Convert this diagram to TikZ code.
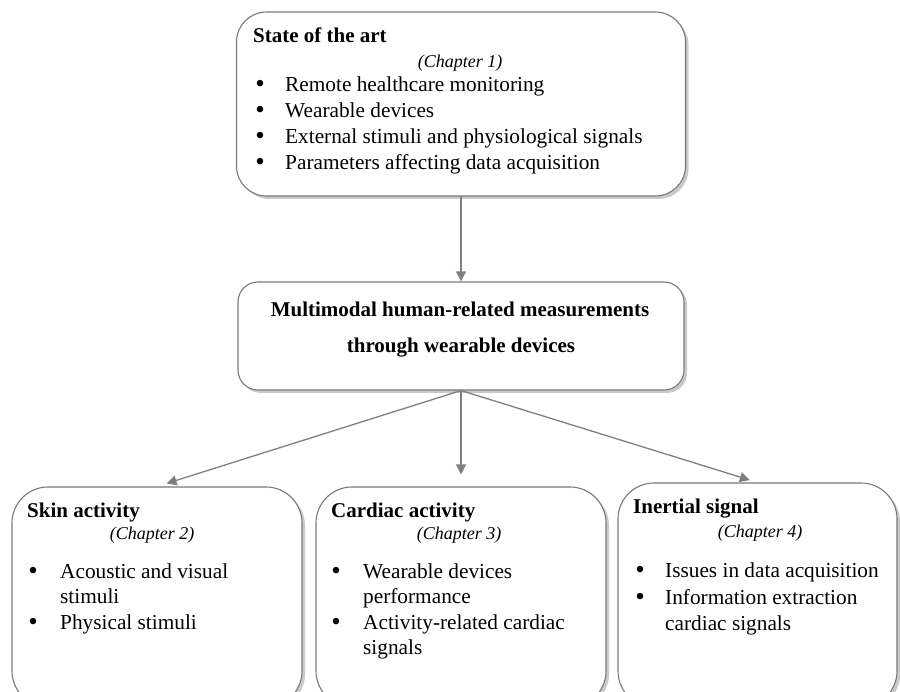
\documentclass[tikz,border=0pt]{standalone}
\usepackage{fontspec}
\setmainfont{Liberation Serif}
\usetikzlibrary{arrows.meta,shadows}
\definecolor{edgegray}{HTML}{7A7A7A}
\definecolor{arrgray}{HTML}{7F7F7F}
\newcommand{\mybul}{\smash{\textbullet}}
\begin{document}
\begin{tikzpicture}[x=1pt,y=-1pt,
  box/.style={draw=edgegray,line width=1.1pt,fill=white,
    drop shadow={shadow xshift=3pt,shadow yshift=-3pt,opacity=0.35,fill=black!60}},
  conn/.style={draw=arrgray,line width=1.3pt,-{Triangle[length=10pt,width=10pt]}},
  txt/.style={anchor=base west,inner sep=0pt,font=\fontsize{21.3}{25}\selectfont},
  head/.style={txt,font=\fontsize{21}{25}\selectfont\bfseries},
  chap/.style={anchor=base,inner sep=0pt,font=\fontsize{18}{20}\selectfont\itshape},
  mtxt/.style={anchor=base,inner sep=0pt,font=\fontsize{21}{25}\selectfont\bfseries},
  bul/.style={anchor=base,inner sep=0pt,font=\fontsize{27}{25}\selectfont}]
\useasboundingbox (0,0) rectangle (900,692);
\clip (0,0) rectangle (900,692);
\fill[white] (0,0) rectangle (900,692);

% boxes
\node[box,rounded corners=30pt,minimum width=449pt,minimum height=184pt] (top) at (461,104) {};
\node[box,rounded corners=20pt,minimum width=446pt,minimum height=108pt] (mid) at (461,336) {};
\node[box,rounded corners=36pt,minimum width=290pt,minimum height=220pt] (b1) at (157,597) {};
\node[box,rounded corners=36pt,minimum width=290pt,minimum height=220pt] (b2) at (461,597) {};
\node[box,rounded corners=36pt,minimum width=279pt,minimum height=224pt] (b3) at (757.5,595) {};

% connectors
\draw[conn] (top.south) -- (mid.north);
\draw[conn,shorten >=10pt] (mid.south) -- (b1.north);
\draw[conn,shorten >=12pt] (mid.south) -- (b2.north);
\draw[conn,shorten >=8pt] (mid.south) -- (b3.north);

% top box text
\node[head] (h0) at (253,43) {State of the art};
\node[chap] (c0) at (460,68) {(Chapter 1)};
\node[bul] (u01) at (260,93) {\mybul};
\node[txt] (l01) at (285,92) {Remote healthcare monitoring};
\node[bul] (u02) at (260,119) {\mybul};
\node[txt] (l02) at (285,118) {Wearable devices};
\node[bul] (u03) at (260,145) {\mybul};
\node[txt] (l03) at (285,144) {External stimuli and physiological signals};
\node[bul] (u04) at (260,171) {\mybul};
\node[txt] (l04) at (285,170) {Parameters affecting data acquisition};

% middle box text
\node[mtxt] (m1) at (460,317) {Multimodal human-related measurements};
\node[mtxt] (m2) at (461,353) {through wearable devices};

% box 1
\node[head] (h1) at (27,517) {Skin activity};
\node[chap] (c1) at (152,539) {(Chapter 2)};
\node[bul] (u11) at (33,579) {\mybul};
\node[txt] (l11) at (60,578) {Acoustic and visual};
\node[txt] (l12) at (60,603) {stimuli};
\node[bul] (u12) at (33,630) {\mybul};
\node[txt] (l13) at (60,629) {Physical stimuli};

% box 2
\node[head] (h2) at (331,517) {Cardiac activity};
\node[chap] (c2) at (459,539) {(Chapter 3)};
\node[bul] (u21) at (336,579) {\mybul};
\node[txt] (l21) at (363,578) {Wearable devices};
\node[txt] (l22) at (363,603) {performance};
\node[bul] (u22) at (336,630) {\mybul};
\node[txt] (l23) at (363,629) {Activity-related cardiac};
\node[txt] (l24) at (363,654) {signals};

% box 3
\node[head] (h3) at (633,514) {Inertial signal};
\node[chap] (c3) at (760,537) {(Chapter 4)};
\node[bul] (u31) at (640,578) {\mybul};
\node[txt] (l31) at (665,577) {Issues in data acquisition};
\node[bul] (u32) at (640,605) {\mybul};
\node[txt] (l32) at (665,604) {Information extraction};
\node[txt] (l33) at (665,630) {cardiac signals};
\end{tikzpicture}
\end{document}
